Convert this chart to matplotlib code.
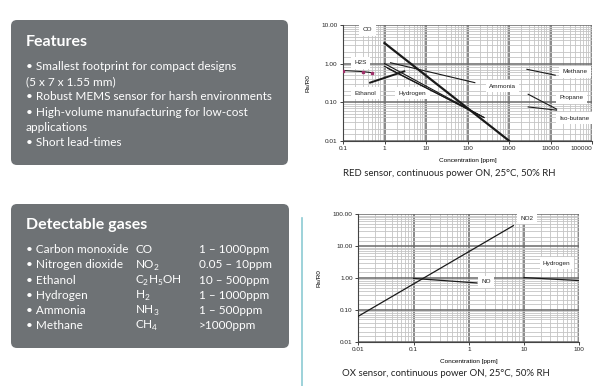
import matplotlib
matplotlib.use("Agg")
import matplotlib.pyplot as plt
from matplotlib.patches import FancyBboxPatch
from matplotlib.ticker import LogLocator, FixedLocator, FixedFormatter, NullFormatter

plt.rcParams['font.family'] = ['Lato', 'DejaVu Sans']
plt.rcParams['mathtext.fontset'] = 'custom'
plt.rcParams['mathtext.rm'] = 'Lato'

# ---- text of the two grey boxes
features_title = "Features"
features_lines = ["\u2022 Smallest footprint for compact designs",
                  "(5 x 7 x 1.55 mm)",
                  "\u2022 Robust MEMS sensor for harsh environments",
                  "\u2022 High-volume manufacturing for low-cost",
                  "applications",
                  "\u2022 Short lead-times"]
gases_title = "Detectable gases"
gas_names = ["\u2022 Carbon monoxide", "\u2022 Nitrogen dioxide", "\u2022 Ethanol",
             "\u2022 Hydrogen", "\u2022 Ammonia", "\u2022 Methane"]
gas_formulas = ["CO", r"NO$_\mathrm{2}$", r"C$_\mathrm{2}$H$_\mathrm{5}$OH",
                r"H$_\mathrm{2}$", r"NH$_\mathrm{3}$", r"CH$_\mathrm{4}$"]
gas_ranges = ["1 \u2013 1000ppm", "0.05 \u2013 10ppm", "10 \u2013 500ppm",
              "1 \u2013 1000ppm", "1 \u2013 500ppm", ">1000ppm"]

# ---- RED sensor curves (concentration ppm, Rs/R0)
red_curves = {
    "CO":       ([1, 1000], [3.4, 0.01]),
    "H2S":      ([0.1, 0.3, 0.5], [0.66, 0.62, 0.58]),
    "Ammonia":  ([1.4, 150], [1.05, 0.32]),
    "Ethanol":  ([1, 250], [1.0, 0.04]),
    "Hydrogen": ([1, 250], [0.85, 0.04]),
    "Other":    ([1.2, 200], [0.75, 0.045]),
    "Methane":  ([2700, 13000], [0.71, 0.5]),
    "Propane":  ([2900, 14000], [0.16, 0.066]),
    "Iso-butane": ([2900, 14000], [0.075, 0.062]),
}
ethanol_leader = ([0.45, 3], [0.32, 0.63])
red_labels = [("CO", 0.3, 7.5), ("H2S", 0.19, 1.05), ("Ethanol", 0.19, 0.17),
              ("Hydrogen", 2.2, 0.17), ("Ammonia", 330, 0.26), ("Methane", 19000, 0.62),
              ("Propane", 16500, 0.13), ("Iso-butane", 16500, 0.038)]
red_xticks = [0.1, 1, 10, 100, 1000, 10000, 100000]
red_xticklabels = ["0.1", "1", "10", "100", "1000", "10000", "100000"]
red_yticks = [0.01, 0.1, 1, 10]
red_yticklabels = ["0.01", "0.10", "1.00", "10.00"]

# ---- OX sensor curves
ox_curves = {
    "NO2": ([0.01, 6.4], [0.063, 44]),
    "NO": ([0.1, 1.4], [0.97, 0.7]),
    "Hydrogen": ([10, 100], [1.03, 0.83]),
}
ox_labels = [("NO2", 8.5, 75), ("Hydrogen", 22, 2.9), ("NO", 1.7, 0.75)]
ox_xticks = [0.01, 0.1, 1, 10, 100]
ox_xticklabels = ["0.01", "0.1", "1", "10", "100"]
ox_yticks = [0.01, 0.1, 1, 10, 100]
ox_yticklabels = ["0.01", "0.10", "1.00", "10.00", "100.00"]

fig = plt.figure(figsize=(6, 3.86), dpi=100)
fig.patch.set_facecolor("white")

# background axes in pixel units
bg = fig.add_axes([0, 0, 1, 1])
bg.set_xlim(0, 600)
bg.set_ylim(386, 0)
bg.axis("off")

box_color = "#6e7275"
for (x0, y0, x1, y1) in [(11, 20, 288, 165), (11, 204, 289, 348)]:
    bg.add_patch(FancyBboxPatch((x0 + 6, y0 + 6), x1 - x0 - 12, y1 - y0 - 12,
                                boxstyle="round,pad=6", fc=box_color, ec="none"))

bg.text(26, 46.5, features_title, color="white", fontsize=11.5, fontweight="bold", va="baseline")
for i, line in enumerate(features_lines):
    bg.text(26, 70 + i * 15.2, line, color="white", fontsize=8.45, va="baseline")

bg.text(26, 228.5, gases_title, color="white", fontsize=11.5, fontweight="bold", va="baseline")
for i in range(len(gas_names)):
    y = 253.3 + i * 15.2
    bg.text(26, y, gas_names[i], color="white", fontsize=8.45, va="baseline")
    bg.text(135, y, gas_formulas[i], color="white", fontsize=8.45, va="baseline")
    bg.text(199, y, gas_ranges[i], color="white", fontsize=8.45, va="baseline")

# thin teal divider
bg.plot([302, 302], [218, 386], color="#8ccbd3", lw=1.2)

# captions
bg.text(449, 174, "RED sensor, continuous power ON, 25\u00b0C, 50% RH", fontsize=6.9,
        color="#222222", ha="center", va="center")
bg.text(446, 373, "OX sensor, continuous power ON, 25\u00b0C, 50% RH", fontsize=6.9,
        color="#222222", ha="center", va="center")


def style_axes(ax, xticks, xlabels, yticks, ylabels):
    ax.set_xscale("log")
    ax.set_yscale("log")
    ax.set_xlim(xticks[0], xticks[-1])
    ax.set_ylim(yticks[0], yticks[-1])
    ax.xaxis.set_major_locator(FixedLocator(xticks))
    ax.xaxis.set_major_formatter(FixedFormatter(xlabels))
    ax.yaxis.set_major_locator(FixedLocator(yticks))
    ax.yaxis.set_major_formatter(FixedFormatter(ylabels))
    ax.xaxis.set_minor_locator(LogLocator(base=10, subs=range(2, 10), numticks=20))
    ax.yaxis.set_minor_locator(LogLocator(base=10, subs=[1.5, 2, 3, 4, 5, 6, 7, 8, 9], numticks=20))
    ax.xaxis.set_minor_formatter(NullFormatter())
    ax.yaxis.set_minor_formatter(NullFormatter())
    ax.grid(which="major", color="#6a6a6a", lw=1.1)
    ax.grid(which="minor", color="#c4c4c4", lw=0.6)
    ax.set_axisbelow(True)
    for s in ["top", "right"]:
        ax.spines[s].set_visible(False)
    for s in ["left", "bottom"]:
        ax.spines[s].set_color("#444444")
        ax.spines[s].set_linewidth(0.8)
    ax.tick_params(which="major", labelsize=4.6, length=2, width=0.6, pad=2, colors="#222222")
    ax.tick_params(which="minor", length=0)
    ax.set_facecolor("white")
    ax.set_ylabel("Rs/R0", fontsize=4.6, family="Liberation Sans", labelpad=8)
    ax.set_xlabel("Concentration [ppm]", fontsize=4.6, family="Liberation Sans", labelpad=5)
    for lab in ax.get_xticklabels() + ax.get_yticklabels():
        lab.set_family("Liberation Sans")


label_box = dict(fc="white", ec="none", pad=2.5)

# RED sensor chart
ax1 = fig.add_axes([343 / 600, 1 - 140.7 / 386, 249 / 600, 115.7 / 386])
style_axes(ax1, red_xticks, red_xticklabels, red_yticks, red_yticklabels)
for lab, x, y in red_labels:
    ax1.text(x, y, lab, fontsize=4.6, family="Liberation Sans", color="#222222",
             va="center", ha="left", bbox=label_box, zorder=3)
for name, (xs, ys) in red_curves.items():
    lw = 1.6 if name == "CO" else 0.8
    ax1.plot(xs, ys, color="#1a1a1a", lw=lw, zorder=4)
ax1.plot(red_curves["H2S"][0], red_curves["H2S"][1], ls="none", marker="s",
         ms=1.5, color="#a0306a", zorder=5)
ax1.plot(ethanol_leader[0], ethanol_leader[1], color="#1a1a1a", lw=1.4, zorder=4)
# last x label sits at the picture edge; right-align it so it stays inside
ax1.xaxis.get_majorticklabels()[-1].set_horizontalalignment("right")

# OX sensor chart
ax2 = fig.add_axes([358.3 / 600, 1 - 341.7 / 386, 221 / 600, 127.4 / 386])
style_axes(ax2, ox_xticks, ox_xticklabels, ox_yticks, ox_yticklabels)
for lab, x, y in ox_labels:
    ax2.text(x, y, lab, fontsize=4.6, family="Liberation Sans", color="#222222",
             va="center", ha="left", bbox=label_box, zorder=3)
for name, (xs, ys) in ox_curves.items():
    ax2.plot(xs, ys, color="#1a1a1a", lw=0.9, zorder=4)

fig.savefig("out.png", dpi=100)
